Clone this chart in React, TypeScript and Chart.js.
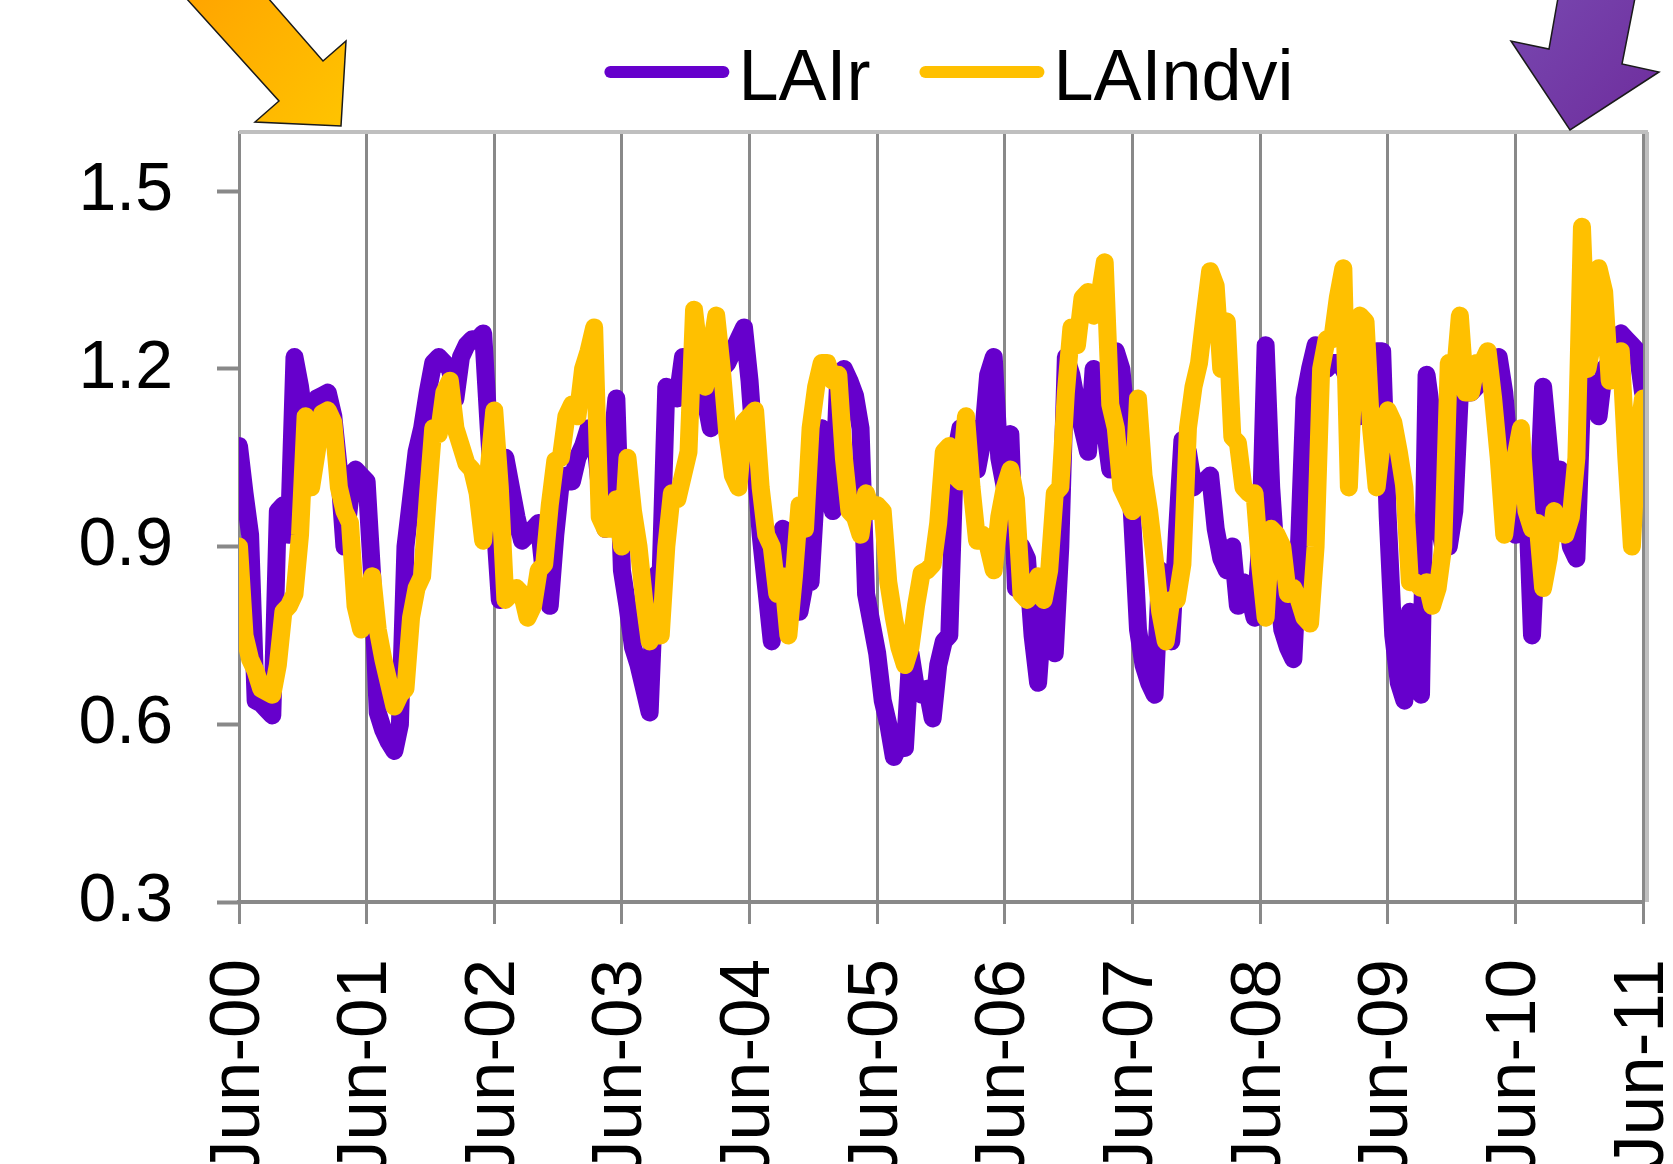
import React, { useEffect, useRef } from "react";
import { Chart, registerables } from "chart.js";

Chart.register(...registerables);

// ---- data ----
const tickLabels = [
  "Jun-00", "Jun-01", "Jun-02", "Jun-03", "Jun-04", "Jun-05",
  "Jun-06", "Jun-07", "Jun-08", "Jun-09", "Jun-10", "Jun-11",
];
const samplesPerYear = 23; // 16-day composites

const seriesNames = ["LAIr", "LAIndvi"];
const seriesColors = ["#6600CC", "#FFC000"];

// one row per year (Jun-yy .. next Jun), last value = Jun-11
const lairValues = [
  1.07, 0.99, 0.92, 0.64, 0.635, 0.625, 0.615, 0.96, 0.97, 0.92, 1.22, 1.17, 1.10, 1.14, 1.15, 1.155, 1.16, 1.12, 1.03, 0.90, 0.98, 1.03, 1.02,
  1.01, 0.85, 0.62, 0.59, 0.57, 0.555, 0.60, 0.90, 0.98, 1.06, 1.10, 1.16, 1.21, 1.22, 1.21, 1.20, 1.15, 1.22, 1.24, 1.25, 1.25, 1.26, 1.10,
  0.95, 0.81, 1.05, 1.00, 0.95, 0.91, 0.92, 0.93, 0.94, 0.85, 0.80, 0.92, 1.01, 1.02, 1.01, 1.05, 1.07, 1.10, 1.10, 1.00, 0.93, 1.05, 1.15,
  0.86, 0.80, 0.73, 0.70, 0.66, 0.62, 0.85, 0.86, 1.17, 1.16, 1.15, 1.22, 1.22, 1.19, 1.16, 1.15, 1.10, 1.20, 1.20, 1.21, 1.23, 1.25, 1.27,
  1.18, 1.05, 0.92, 0.83, 0.74, 0.90, 0.93, 0.82, 0.79, 0.79, 0.84, 0.84, 1.00, 1.10, 1.03, 0.96, 1.19, 1.20, 1.18, 1.155, 1.10, 0.82, 0.77,
  0.72, 0.64, 0.60, 0.545, 0.565, 0.56, 0.72, 0.66, 0.65, 0.66, 0.61, 0.70, 0.74, 0.75, 1.05, 1.10, 1.10, 1.10, 1.03, 1.08, 1.19, 1.22, 1.05,
  1.00, 1.09, 0.83, 0.90, 0.88, 0.75, 0.67, 0.80, 0.76, 0.72, 0.90, 1.22, 1.19, 1.14, 1.10, 1.06, 1.20, 1.18, 1.10, 1.03, 1.23, 1.20, 1.10,
  0.94, 0.76, 0.70, 0.67, 0.65, 0.86, 0.85, 0.74, 0.92, 1.08, 1.06, 1.00, 1.01, 1.01, 1.02, 0.93, 0.88, 0.86, 0.90, 0.80, 0.84, 0.82, 0.78,
  0.90, 1.24, 1.00, 0.86, 0.76, 0.73, 0.71, 0.90, 1.15, 1.20, 1.24, 1.22, 1.20, 1.21, 1.21, 1.20, 1.18, 1.13, 1.12, 1.20, 1.22, 1.23, 1.23,
  0.95, 0.75, 0.67, 0.64, 0.79, 0.72, 0.65, 1.19, 1.12, 0.95, 0.90, 0.90, 0.96, 1.16, 1.16, 1.16, 1.17, 1.18, 1.19, 1.20, 1.22, 1.16, 1.05,
  0.92, 0.98, 1.00, 0.75, 0.95, 1.17, 1.07, 0.97, 1.03, 0.97, 0.90, 0.88, 1.15, 1.18, 1.15, 1.12, 1.20, 1.21, 1.24, 1.26, 1.25, 1.24, 1.23,
  1.16,
];

const laindviValues = [
  0.90, 0.75, 0.71, 0.69, 0.66, 0.655, 0.65, 0.70, 0.79, 0.80, 0.82, 0.92, 1.12, 1.00, 1.06, 1.125, 1.13, 1.11, 1.00, 0.96, 0.94, 0.80, 0.76,
  0.80, 0.85, 0.76, 0.71, 0.67, 0.63, 0.65, 0.66, 0.78, 0.83, 0.85, 0.98, 1.10, 1.09, 1.16, 1.18, 1.10, 1.07, 1.04, 1.03, 0.99, 0.91, 1.03,
  1.13, 1.00, 0.81, 0.82, 0.83, 0.82, 0.78, 0.80, 0.86, 0.87, 0.97, 1.045, 1.05, 1.12, 1.14, 1.12, 1.20, 1.23, 1.27, 0.95, 0.93, 0.93, 0.98,
  0.90, 1.05, 0.96, 0.90, 0.81, 0.74, 0.76, 0.75, 0.90, 0.99, 0.98, 1.02, 1.06, 1.30, 1.22, 1.17, 1.23, 1.29, 1.20, 1.09, 1.02, 1.00, 1.11,
  1.12, 1.13, 1.00, 0.92, 0.90, 0.82, 0.85, 0.75, 0.85, 0.97, 0.93, 1.10, 1.17, 1.21, 1.21, 1.18, 1.19, 1.05, 0.96, 0.95, 0.92, 0.99, 0.96,
  0.97, 0.96, 0.84, 0.78, 0.73, 0.70, 0.73, 0.80, 0.855, 0.86, 0.87, 0.94, 1.06, 1.07, 1.02, 1.01, 1.12, 1.00, 0.91, 0.92, 0.90, 0.86, 0.95,
  1.00, 1.03, 0.98, 0.82, 0.81, 0.82, 0.85, 0.81, 0.86, 0.99, 1.00, 1.16, 1.27, 1.24, 1.32, 1.33, 1.29, 1.32, 1.38, 1.14, 1.10, 1.00, 0.98,
  0.96, 1.15, 1.02, 0.96, 0.88, 0.79, 0.74, 0.81, 0.81, 0.87, 1.10, 1.17, 1.21, 1.29, 1.365, 1.34, 1.20, 1.28, 1.085, 1.075, 1.00, 0.99, 0.99,
  0.87, 0.78, 0.93, 0.92, 0.90, 0.82, 0.83, 0.81, 0.78, 0.77, 0.90, 1.20, 1.25, 1.25, 1.32, 1.37, 1.00, 1.22, 1.29, 1.28, 1.10, 1.00, 1.08,
  1.13, 1.11, 1.06, 1.00, 0.84, 0.84, 0.83, 0.84, 0.80, 0.83, 0.90, 1.21, 1.18, 1.29, 1.16, 1.16, 1.21, 1.21, 1.23, 1.15, 1.05, 0.92, 1.00,
  1.05, 1.10, 0.96, 0.93, 0.94, 0.83, 0.88, 0.96, 0.93, 0.92, 0.95, 1.05, 1.44, 1.20, 1.25, 1.37, 1.33, 1.18, 1.20, 1.23, 1.05, 0.90, 1.08,
  1.15,
];

const yMin = 0.3;
const yMax = 1.6;
const yStep = 0.3;

const FONT = "'Liberation Sans', Arial, sans-serif";
const GRID = "#898989";
const FRAME = "#BFBFBF";
const LINE_WIDTH = 18;

// ---- plugins (decoration) ----
const framePlugin = {
  id: "plotFrame",
  beforeDatasetsDraw(chart: any) {
    const { ctx, chartArea: a } = chart;
    ctx.save();
    ctx.strokeStyle = FRAME;
    ctx.lineWidth = 4;
    ctx.beginPath();
    ctx.moveTo(a.left, a.top);
    ctx.lineTo(a.right + 5, a.top);
    ctx.moveTo(a.right + 4, a.top);
    ctx.lineTo(a.right + 4, a.bottom);
    ctx.stroke();
    ctx.restore();
  },
};

const legendPlugin = {
  id: "lineLegend",
  afterDraw(chart: any) {
    const { ctx, chartArea: a } = chart;
    const sample = 125;
    const gapText = 9;
    const gapItem = 49;
    const lw = 12;
    ctx.save();
    ctx.font = `72px ${FONT}`;
    const items = chart.data.datasets.map((ds: any) => ({
      label: ds.label,
      color: ds.borderColor,
      w: ctx.measureText(ds.label).width,
    }));
    const total =
      items.reduce((s: number, it: any) => s + sample + gapText + it.w, 0) +
      gapItem * (items.length - 1);
    let x = (a.left + a.right) / 2 + 8 - total / 2;
    items.forEach((it: any) => {
      ctx.strokeStyle = it.color;
      ctx.lineWidth = lw;
      ctx.lineCap = "round";
      ctx.beginPath();
      ctx.moveTo(x + lw / 2, 72);
      ctx.lineTo(x + sample - lw / 2, 72);
      ctx.stroke();
      ctx.fillStyle = "#000000";
      ctx.textBaseline = "alphabetic";
      ctx.textAlign = "left";
      ctx.fillText(it.label, x + sample + gapText, 100);
      x += sample + gapText + it.w + gapItem;
    });
    ctx.restore();
  },
};

function drawArrow(ctx: CanvasRenderingContext2D, pts: number[][], c0: string, c1: string) {
  const xs = pts.map((p) => p[0]);
  const ys = pts.map((p) => p[1]);
  const g = ctx.createLinearGradient(Math.min(...xs), Math.min(...ys), Math.max(...xs), Math.max(...ys));
  g.addColorStop(0, c0);
  g.addColorStop(1, c1);
  ctx.beginPath();
  pts.forEach((p, i) => (i === 0 ? ctx.moveTo(p[0], p[1]) : ctx.lineTo(p[0], p[1])));
  ctx.closePath();
  ctx.fillStyle = g;
  ctx.fill();
  ctx.strokeStyle = "#1a1a1a";
  ctx.lineWidth = 1.5;
  ctx.stroke();
}

const arrowsPlugin = {
  id: "arrows",
  afterDraw(chart: any) {
    const { ctx } = chart;
    ctx.save();
    drawArrow(ctx, [[186, -2], [279, 101], [255, 122], [341, 126], [346, 41], [323, 61], [268, -2]], "#FFA400", "#FFC400");
    drawArrow(ctx, [[1558, -2], [1549, 49], [1511, 41], [1570, 130], [1659, 72], [1622, 64], [1635, -2]], "#7848B0", "#6E2C9C");
    ctx.restore();
  },
};

export default function App() {
  const canvasRef = useRef<HTMLCanvasElement | null>(null);

  useEffect(() => {
    const canvas = canvasRef.current;
    if (!canvas) return;
    const toPoints = (vals: number[]) => vals.map((v, i) => ({ x: i / samplesPerYear, y: v }));

    const chart = new Chart(canvas, {
      type: "line",
      data: {
        datasets: [
          {
            label: seriesNames[0],
            data: toPoints(lairValues),
            borderColor: seriesColors[0],
            backgroundColor: seriesColors[0],
            borderWidth: LINE_WIDTH,
            pointRadius: 0,
            tension: 0,
            borderJoinStyle: "round",
            borderCapStyle: "round",
            order: 1,
          },
          {
            label: seriesNames[1],
            data: toPoints(laindviValues),
            borderColor: seriesColors[1],
            backgroundColor: seriesColors[1],
            borderWidth: LINE_WIDTH,
            pointRadius: 0,
            tension: 0,
            borderJoinStyle: "round",
            borderCapStyle: "round",
            order: 0,
          },
        ],
      },
      options: {
        responsive: false,
        animation: false,
        devicePixelRatio: 1,
        events: [],
        layout: { padding: { top: 132, right: 30, left: 0, bottom: 0 } },
        plugins: {
          legend: { display: false },
          tooltip: { enabled: false },
          title: { display: false },
        },
        scales: {
          x: {
            type: "linear",
            min: 0,
            max: tickLabels.length - 1,
            offset: false,
            afterFit: (s: any) => {
              s.height = 262;
              s.paddingLeft = 0;
              s.paddingRight = 0;
            },
            grid: { color: GRID, lineWidth: 3, drawTicks: true, tickLength: 22, tickColor: GRID },
            border: { display: true, color: GRID, width: 4 },
            ticks: {
              stepSize: 1,
              autoSkip: false,
              maxRotation: 90,
              minRotation: 90,
              padding: 35,
              color: "#000000",
              font: { family: FONT, size: 71 },
              callback: (v: any) => tickLabels[Math.round(Number(v))] ?? "",
            },
          },
          y: {
            type: "linear",
            min: yMin,
            max: yMax,
            afterFit: (s: any) => {
              s.width = 239;
              s.paddingTop = 0;
              s.paddingBottom = 0;
            },
            grid: { drawOnChartArea: false, drawTicks: true, tickLength: 22, tickColor: GRID, tickWidth: 4, color: GRID },
            border: { display: true, color: GRID, width: 3 },
            ticks: {
              stepSize: yStep,
              includeBounds: false,
              padding: 44,
              color: "#000000",
              font: { family: FONT, size: 68 },
              callback: (v: any) => Number(v).toFixed(1),
            },
          },
        },
      },
      plugins: [framePlugin, legendPlugin, arrowsPlugin],
    } as any);

    return () => chart.destroy();
  }, []);

  return (
    <div style={{ position: "absolute", left: 0, top: 0, width: 1673, height: 1164, background: "#ffffff", overflow: "hidden" }}>
      <canvas ref={canvasRef} width={1673} height={1164} style={{ width: 1673, height: 1164, display: "block" }} />
    </div>
  );
}
